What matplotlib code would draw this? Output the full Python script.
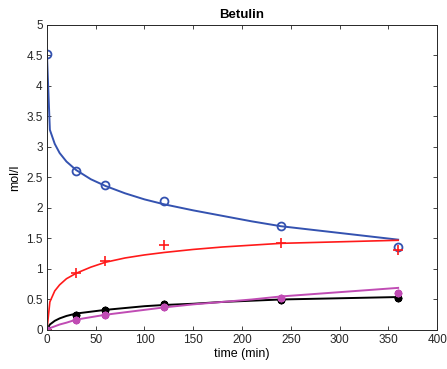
import numpy as np
import matplotlib.pyplot as plt

plt.rcParams['font.family'] = ['Liberation Sans', 'DejaVu Sans']

# measured points
t_data = [0, 30, 60, 120, 240, 360]
betulin = [4.52, 2.60, 2.37, 2.12, 1.71, 1.36]
prod1 = [0.0, 0.93, 1.13, 1.39, 1.42, 1.31]
prod2 = [0.0, 0.25, 0.32, 0.43, 0.49, 0.52]
prod3 = [0.0, 0.17, 0.24, 0.38, 0.53, 0.61]

# fitted curves
t_fit = [0, 3, 8, 13, 20, 30, 45, 60, 80, 100, 120, 150, 180, 210, 240, 360]
betulin_fit = [4.52, 3.28, 3.05, 2.90, 2.76, 2.62, 2.47, 2.36, 2.24, 2.14, 2.06, 1.96, 1.87, 1.78, 1.70, 1.48]
prod1_fit = [0.0, 0.46, 0.64, 0.74, 0.84, 0.93, 1.03, 1.11, 1.18, 1.23, 1.27, 1.32, 1.36, 1.39, 1.42, 1.47]
prod2_fit = [0.0, 0.09, 0.15, 0.19, 0.23, 0.27, 0.30, 0.33, 0.36, 0.39, 0.41, 0.43, 0.46, 0.48, 0.50, 0.54]
prod3_fit = [0.0, 0.03, 0.06, 0.09, 0.12, 0.17, 0.21, 0.25, 0.29, 0.33, 0.37, 0.42, 0.46, 0.50, 0.55, 0.69]

blue = '#3452b0'
red = '#ff1a1a'
magenta = '#c04cb4'
black = '#000000'
asterisk = (8, 2, 0)

fig = plt.figure(figsize=(4.47, 3.69), dpi=100)
ax = fig.add_axes([0.105, 0.1057, 0.873, 0.827])

ax.plot(t_fit, betulin_fit, color=blue, lw=1.4)
ax.plot(t_fit, prod1_fit, color=red, lw=1.2)
ax.plot(t_fit, prod2_fit, color=black, lw=1.4)
ax.plot(t_fit, prod3_fit, color=magenta, lw=1.4)

ax.plot(t_data, betulin, 'o', mfc='none', mec=blue, mew=1.3, ms=5.7)
ax.plot(t_data, prod1, '+', color=red, mew=1.2, ms=6.5)
ax.plot(t_data, prod2, marker=asterisk, ls='none', color=black, mew=1.4, ms=5.5)
ax.plot(t_data, prod3, marker=asterisk, ls='none', color=magenta, mew=1.4, ms=5.5)

ax.set_xlim(0, 400)
ax.set_ylim(0, 5)
ax.set_xticks(np.arange(0, 401, 50))
ax.set_yticks(np.arange(0, 5.01, 0.5))
ax.set_yticklabels(['0', '0.5', '1', '1.5', '2', '2.5', '3', '3.5', '4', '4.5', '5'])

ax.tick_params(direction='in', top=True, right=True, length=3, width=0.6,
               colors='#262626', labelsize=8.5, pad=3)
for s in ax.spines.values():
    s.set_color('#262626')
    s.set_linewidth(0.7)

ax.set_title('Betulin', fontsize=9.5, fontweight='bold', pad=5)
ax.set_xlabel('time (min)', fontsize=9, labelpad=1)
ax.set_ylabel('mol/l', fontsize=9, labelpad=4)

fig.savefig('out.png', dpi=100)
